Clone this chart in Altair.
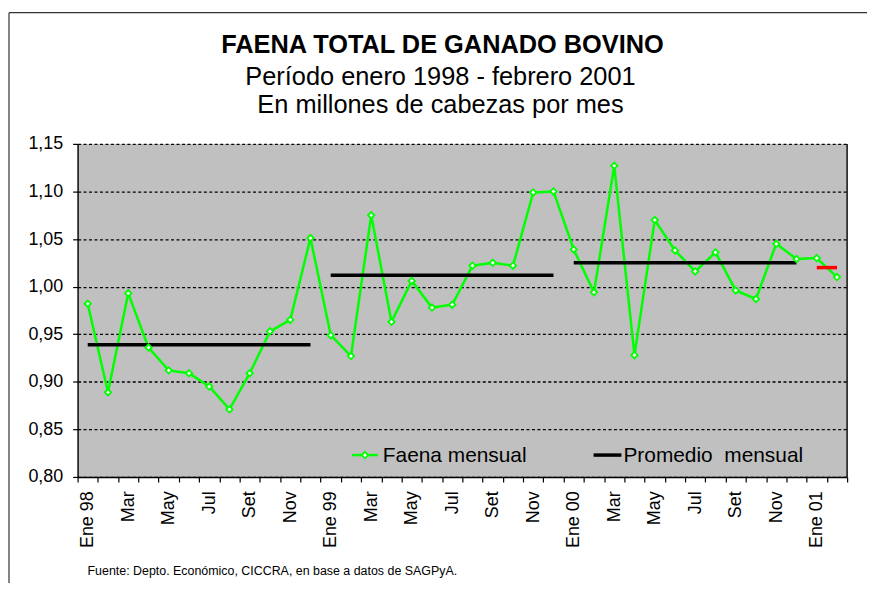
import altair as alt
import pandas as pd

FONT = "Liberation Sans"

# ---- data ----
x_labels = ["Ene 98", "", "Mar", "", "May", "", "Jul", "", "Set", "", "Nov", "",
            "Ene 99", "", "Mar", "", "May", "", "Jul", "", "Set", "", "Nov", "",
            "Ene 00", "", "Mar", "", "May", "", "Jul", "", "Set", "", "Nov", "",
            "Ene 01", ""]

faena = [0.982, 0.889, 0.993, 0.936, 0.912, 0.909, 0.895, 0.871, 0.909, 0.953, 0.965, 1.051,
         0.949, 0.927, 1.075, 0.963, 1.006, 0.978, 0.981, 1.022, 1.025, 1.022, 1.099, 1.100,
         1.039, 0.994, 1.127, 0.928, 1.070, 1.038, 1.016, 1.036, 0.996, 0.987, 1.045, 1.029,
         1.030, 1.010]

avg_periods = ["1998", "1999", "2000"]
avg_start = [0, 12, 24]
avg_end = [11, 23, 35]
avg_values = [0.939, 1.012, 1.025]

partial_start = [36]
partial_end = [37]
partial_values = [1.020]

series_names = ["Faena mensual", "Promedio\u00a0 mensual"]
y_ticks = [0.80, 0.85, 0.90, 0.95, 1.00, 1.05, 1.10, 1.15]

title_lines = ["FAENA TOTAL DE GANADO BOVINO",
               "Período enero 1998 - febrero 2001",
               "En millones de cabezas por mes"]
footer = "Fuente: Depto. Económico, CICCRA, en base a datos de SAGPyA."

# ---- tables ----
n = len(faena)
main_df = pd.DataFrame({"idx": list(range(n)), "value": faena})

avg_rows = []
for p, s, e, v in zip(avg_periods, avg_start, avg_end, avg_values):
    avg_rows.append({"idx": s, "value": v, "period": p})
    avg_rows.append({"idx": e, "value": v, "period": p})
avg_df = pd.DataFrame(avg_rows)

part_rows = []
for s, e, v in zip(partial_start, partial_end, partial_values):
    part_rows.append({"idx": s, "value": v})
    part_rows.append({"idx": e, "value": v})
part_df = pd.DataFrame(part_rows)

dummy = pd.DataFrame({"d": [0]})

W, H = 774, 335
GREEN = "#00FF00"

label_expr = "[" + ",".join("'" + l + "'" for l in x_labels) + "][datum.value]"

x_enc = alt.X("idx:O",
              scale=alt.Scale(type="band", domain=list(range(n)), paddingInner=0, paddingOuter=0),
              axis=alt.Axis(title=None, labelExpr=label_expr, labelAngle=270, labelAlign="right",
                            labelBaseline="middle", labelFontSize=18, labelFont=FONT,
                            labelColor="black", labelPadding=9, labelOverlap=False,
                            tickColor="black", tickSize=5, tickWidth=1.2, tickBand="extent",
                            domainColor="black", domainWidth=1.4, grid=False))
y_scale = alt.Scale(domain=[0.80, 1.15], nice=False, zero=False)
y_enc = alt.Y("value:Q", scale=y_scale,
              axis=alt.Axis(title=None, values=y_ticks,
                            labelExpr="replace(format(datum.value, '.2f'), '.', ',')",
                            labelFontSize=18, labelFont=FONT, labelColor="black", labelPadding=10,
                            tickColor="black", tickSize=5, tickWidth=1.2,
                            domainColor="black", domainWidth=1.4,
                            grid=True, gridColor="black", gridDash=[3, 2.5], gridWidth=1.3,
                            gridOpacity=1))

line = alt.Chart(main_df).mark_line(strokeWidth=2.5, color=GREEN).encode(x=x_enc, y=y_enc)

points = alt.Chart(main_df).mark_point(shape="diamond", filled=True, fill="white",
                                       stroke=GREEN, strokeWidth=1.8, size=42,
                                       opacity=1).encode(
    x=alt.X("idx:O"), y=alt.Y("value:Q", scale=y_scale))

avg = alt.Chart(avg_df).mark_line(strokeWidth=3.5, strokeCap="butt", color="black").encode(
    x=alt.X("idx:O"), y=alt.Y("value:Q", scale=y_scale), detail="period:N")

partial = alt.Chart(part_df).mark_line(strokeWidth=3.5, strokeCap="butt", color="#FF0000").encode(
    x=alt.X("idx:O"), y=alt.Y("value:Q", scale=y_scale))

right_border = alt.Chart(dummy).mark_rule(color="black", strokeWidth=1.4).encode(
    x=alt.value(W), y=alt.value(0), y2=alt.value(H))

frame_top = alt.Chart(dummy).mark_rule(color="#333333", strokeWidth=1.2).encode(
    x=alt.value(-69), x2=alt.value(W + 30), y=alt.value(-132))
frame_left = alt.Chart(dummy).mark_rule(color="#333333", strokeWidth=1.2).encode(
    x=alt.value(-69), y=alt.value(-132), y2=alt.value(H + 120))

# legend (drawn as decoration)
LEG_Y = 313
leg_line1 = alt.Chart(dummy).mark_rule(color=GREEN, strokeWidth=2.5).encode(
    x=alt.value(276), x2=alt.value(302), y=alt.value(LEG_Y))
leg_pt1 = alt.Chart(dummy).mark_point(shape="diamond", filled=True, fill="white",
                                      stroke=GREEN, strokeWidth=1.8, size=42, opacity=1).encode(
    x=alt.value(289), y=alt.value(LEG_Y))
leg_txt1 = alt.Chart(dummy).mark_text(font=FONT, fontSize=21, align="left", baseline="middle",
                                      color="black").encode(
    x=alt.value(307), y=alt.value(LEG_Y + 1), text=alt.value(series_names[0]))
leg_line2 = alt.Chart(dummy).mark_rule(color="black", strokeWidth=3.5).encode(
    x=alt.value(519), x2=alt.value(547), y=alt.value(LEG_Y))
leg_txt2 = alt.Chart(dummy).mark_text(font=FONT, fontSize=21, align="left", baseline="middle",
                                      color="black").encode(
    x=alt.value(549), y=alt.value(LEG_Y + 1), text=alt.value(series_names[1]))

t1 = alt.Chart(dummy).mark_text(font=FONT, fontSize=25.5, fontWeight="bold", align="center",
                                baseline="alphabetic", color="black").encode(
    x=alt.value(367), y=alt.value(-91), text=alt.value(title_lines[0]))
t2 = alt.Chart(dummy).mark_text(font=FONT, fontSize=25.5, align="center",
                                baseline="alphabetic", color="black").encode(
    x=alt.value(365), y=alt.value(-59), text=alt.value(title_lines[1]))
t3 = alt.Chart(dummy).mark_text(font=FONT, fontSize=25.5, align="center",
                                baseline="alphabetic", color="black").encode(
    x=alt.value(365), y=alt.value(-31), text=alt.value(title_lines[2]))
foot = alt.Chart(dummy).mark_text(font=FONT, fontSize=12.5, align="left",
                                  baseline="alphabetic", color="black").encode(
    x=alt.value(10), y=alt.value(434), text=alt.value(footer))

chart = alt.layer(line, avg, partial, points, right_border, frame_top, frame_left,
                  leg_line1, leg_pt1, leg_txt1, leg_line2, leg_txt2,
                  t1, t2, t3, foot).properties(
    width=W, height=H,
    autosize=alt.AutoSizeParams(type="none"),
    padding={"left": 70, "top": 135, "right": 20, "bottom": 105},
    background="white",
).configure_view(fill="#C0C0C0", stroke=None)

chart.save("out.html", embed_options={"renderer": "svg", "actions": False})
